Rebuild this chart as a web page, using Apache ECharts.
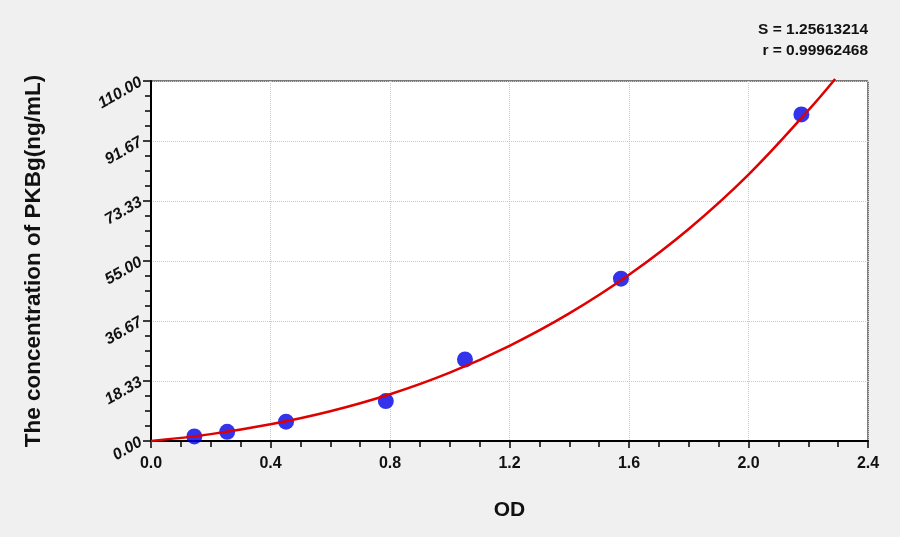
<!DOCTYPE html>
<html>
<head>
<meta charset="utf-8">
<script src="https://cdn.jsdelivr.net/npm/echarts@6/dist/echarts.min.js"></script>
<style>
html,body{margin:0;padding:0;background:#f0f0f0;}
#c{width:900px;height:537px;}
</style>
</head>
<body>
<div id="c"></div>
<script>
// Standard points (OD, concentration)
var pointOD   = [0.145, 0.255, 0.452, 0.786, 1.051, 1.573, 2.177];
var pointConc = [1.4,   2.8,   5.9,   12.2,  24.9,  49.6,  99.8];
// Fitted curve
var curveOD   = [0,   0.2, 0.4, 0.6, 0.8,  1.0,  1.2,  1.4,  1.6,  1.8,  2.0,  2.2,   2.29];
var curveConc = [0,   2.1, 5.1, 9.1, 14.3, 20.9, 29.1, 39.0, 50.8, 64.8, 81.4, 101.0, 110.6];
var yTicks = 6;
var yMax = 110;
var xMax = 2.4;
var annotation = ['S = 1.25613214', 'r = 0.99962468'];
var xName = 'OD';
var yName = 'The concentration of PKBg(ng/mL)';

var pts = pointOD.map(function(x,i){return [x, pointConc[i]];});
var crv = curveOD.map(function(x,i){return [x, curveConc[i]];});
var FF = 'Arial, "Liberation Sans", sans-serif';

var chart = echarts.init(document.getElementById('c'));
chart.setOption({
  backgroundColor:'#f0f0f0',
  animation:false,
  grid:{left:151,right:32,top:81,bottom:96,show:true,backgroundColor:'#ffffff',borderColor:'#000',borderWidth:1},
  graphic:[
    {type:'text',right:32,top:22,style:{text:annotation[0],font:'bold 15.5px ' + FF,fill:'#111',textAlign:'right'}},
    {type:'text',right:32,top:43,style:{text:annotation[1],font:'bold 15.5px ' + FF,fill:'#111',textAlign:'right'}}
  ],
  xAxis:{
    type:'value',min:0,max:xMax,interval:0.4,
    name:xName,nameLocation:'middle',nameGap:59,
    nameTextStyle:{fontSize:21,fontWeight:'bold',color:'#111',fontFamily:FF},
    axisLine:{show:true,lineStyle:{color:'#000',width:2}},
    axisTick:{show:true,length:7,lineStyle:{color:'#000',width:1.5}},
    minorTick:{show:true,splitNumber:4,length:6,lineStyle:{color:'#000',width:1.5}},
    splitLine:{show:true,lineStyle:{color:'#c8c8c8',type:'dotted',width:1}},
    axisLabel:{fontSize:16,fontWeight:'bold',color:'#111',margin:15,fontFamily:FF,
      formatter:function(v){return v.toFixed(1);}}
  },
  yAxis:{
    type:'value',min:0,max:yMax,interval:yMax/yTicks,
    name:yName,nameLocation:'middle',nameGap:106,
    nameTextStyle:{fontSize:22.5,fontWeight:'bold',color:'#111',fontFamily:FF},
    axisLine:{show:true,lineStyle:{color:'#000',width:2}},
    axisTick:{show:true,length:8,lineStyle:{color:'#000',width:1.5}},
    minorTick:{show:true,splitNumber:4,length:6,lineStyle:{color:'#000',width:1.5}},
    splitLine:{show:true,lineStyle:{color:'#c8c8c8',type:'dotted',width:1}},
    axisLabel:{fontSize:16,fontWeight:'bold',fontStyle:'italic',color:'#111',rotate:30,margin:10,fontFamily:FF,
      formatter:function(v){return v.toFixed(2);}}
  },
  series:[
    {type:'line',data:crv,smooth:0.4,showSymbol:false,symbol:'none',clip:false,
      lineStyle:{color:'#e00000',width:2.5},z:3},
    {type:'scatter',data:pts,symbolSize:16,itemStyle:{color:'#0000e6'},z:2}
  ]
});
</script>
</body>
</html>
